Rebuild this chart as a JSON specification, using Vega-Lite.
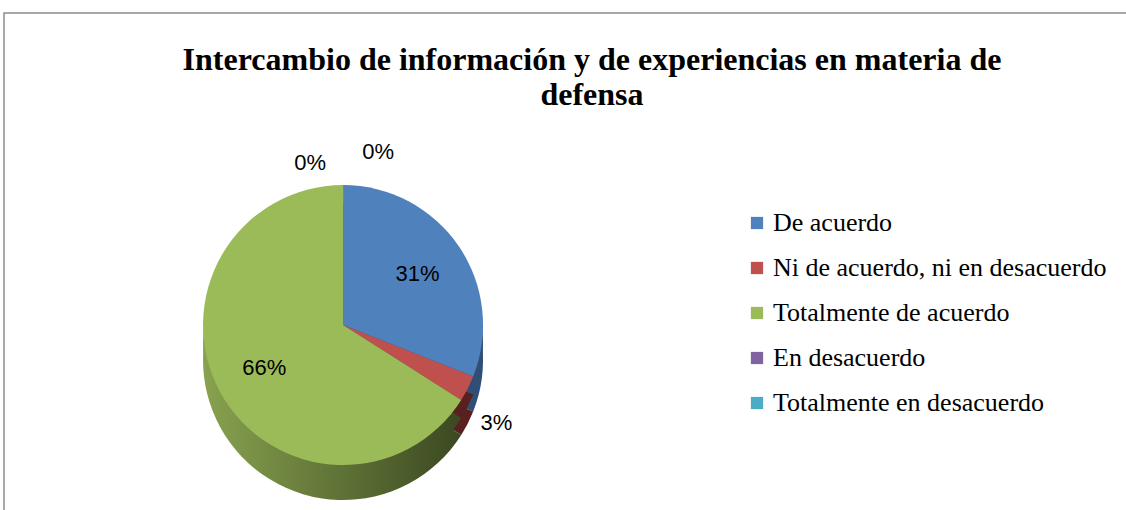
{
  "$schema": "https://vega.github.io/schema/vega-lite/v6.json",
  "autosize": {"type": "none"},
  "width": 1126,
  "height": 500,
  "padding": {"left": 4, "top": 13, "right": 0, "bottom": 0},
  "background": "white",
  "config": {
    "view": {"stroke": "#8c8c8c", "strokeWidth": 1.5}
  },
  "title": {
    "text": ["Intercambio  de información  y de experiencias  en materia  de", "defensa"],
    "font": "Liberation Serif",
    "fontSize": 32,
    "fontWeight": "bold",
    "lineHeight": 35,
    "color": "black",
    "anchor": "middle",
    "frame": "group",
    "orient": "top",
    "baseline": "top",
    "offset": -99,
    "dx": 25
  },
  "data": {
    "values": [
      {"respuesta": "De acuerdo", "pct": 31, "etiqueta": "31%", "n": 1},
      {"respuesta": "Ni de acuerdo, ni en desacuerdo", "pct": 3, "etiqueta": "3%", "n": 2},
      {"respuesta": "Totalmente de acuerdo", "pct": 66, "etiqueta": "66%", "n": 3},
      {"respuesta": "En desacuerdo", "pct": 0, "etiqueta": "0%", "n": 4},
      {"respuesta": "Totalmente en desacuerdo", "pct": 0, "etiqueta": "0%", "n": 5}
    ]
  },
  "encoding": {
    "theta": {"field": "pct", "type": "quantitative", "stack": true},
    "order": {"field": "n", "type": "quantitative"},
    "x": {"datum": 0.3011, "type": "quantitative", "scale": {"domain": [0, 1]}, "axis": null},
    "y": {"datum": 0.624, "type": "quantitative", "scale": {"domain": [1, 0]}, "axis": null}
  },
  "layer": [
    {
      "mark": {"type": "arc", "radius": 140, "yOffset": 35},
      "encoding": {
        "fill": {
          "condition": {"test": "datum.n == 3", "value": {"gradient": "linear", "x1": 0, "x2": 1, "y1": 0, "y2": 0,
            "stops": [{"offset": 0, "color": "#88a24f"}, {"offset": 1, "color": "#3b4821"}]}},
          "field": "respuesta", "type": "nominal", "legend": null,
          "scale": {"range": ["#2f4f78", "#4a3a60", "#5a201f", "#5c7131", "#2c6676"]}}
      }
    },
    {
      "mark": {"type": "arc", "radius": 140, "yOffset": 18},
      "encoding": {
        "fill": {
          "condition": {"test": "datum.n == 3", "value": {"gradient": "linear", "x1": 0, "x2": 1, "y1": 0, "y2": 0,
            "stops": [{"offset": 0, "color": "#88a24f"}, {"offset": 1, "color": "#3b4821"}]}},
          "field": "respuesta", "type": "nominal", "legend": null}
      }
    },
    {
      "mark": {"type": "arc", "radius": 140},
      "encoding": {
        "color": {"field": "respuesta", "type": "nominal",
          "scale": {"domain": ["De acuerdo", "Ni de acuerdo, ni en desacuerdo", "Totalmente de acuerdo", "En desacuerdo", "Totalmente en desacuerdo"],
                    "range": ["#4f81bd", "#c0504d", "#9bbb59", "#8064a2", "#4bacc6"]},
          "legend": {
            "title": null,
            "orient": "none",
            "legendX": 740,
            "legendY": 197,
            "padding": 0,
            "symbolType": "square",
            "symbolSize": 150,
            "symbolStrokeWidth": 0,
            "labelFont": "Liberation Serif",
            "labelFontSize": 26,
            "labelColor": "black",
            "labelOffset": 3,
            "labelLimit": 0,
            "rowPadding": 19
          }
        }
      }
    },
    {
      "mark": {"type": "text", "radius": 90, "font": "Liberation Sans", "fontSize": 22, "color": "black"},
      "encoding": {"text": {"condition": {"test": "datum.n == 1 || datum.n == 3", "field": "etiqueta"}, "value": ""}}
    },
    {
      "mark": {"type": "text", "radius": 172, "dy": 20, "font": "Liberation Sans", "fontSize": 22, "color": "black"},
      "encoding": {"text": {"condition": {"test": "datum.n == 2", "field": "etiqueta"}, "value": ""}}
    },
    {
      "mark": {"type": "text", "radius": 165, "dx": -33, "dy": 3, "font": "Liberation Sans", "fontSize": 22, "color": "black"},
      "encoding": {"text": {"condition": {"test": "datum.n == 4", "field": "etiqueta"}, "value": ""}}
    },
    {
      "mark": {"type": "text", "radius": 165, "dx": 35, "dy": -8, "font": "Liberation Sans", "fontSize": 22, "color": "black"},
      "encoding": {"text": {"condition": {"test": "datum.n == 5", "field": "etiqueta"}, "value": ""}}
    }
  ]
}
